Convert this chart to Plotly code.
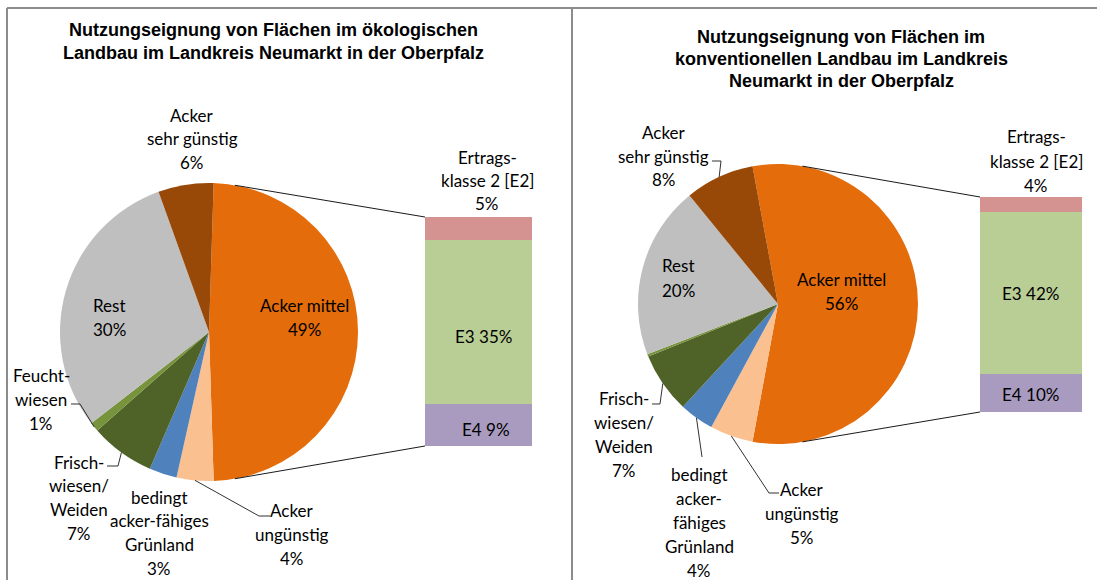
import math
import plotly.graph_objects as go

W, H = 1097, 580

# ---- data -----------------------------------------------------------------
categories = ["Acker mittel", "Acker ungünstig", "bedingt acker-fähiges Grünland",
              "Frischwiesen/Weiden", "Feuchtwiesen", "Rest", "Acker sehr günstig"]
oeko_values = [49, 4, 3, 7, 1, 30, 6]
konv_values = [56, 5, 4, 7, 0.3, 20, 8]

# "Acker mittel" split into yield classes (stacked bottom -> top)
ertrag_classes = ["E4", "E3", "E2"]
oeko_ertrag = [9, 35, 5]
konv_ertrag = [10, 42, 4]

slice_colors = ["#E46C0A", "#FAC090", "#4F81BD", "#4F6228", "#77933C", "#BFBFBF", "#984807"]
class_colors = ["#A99BBF", "#B9CE95", "#D49391"]

title_oeko = ["Nutzungseignung von Flächen im ökologischen",
              "Landbau im Landkreis Neumarkt in der Oberpfalz"]
title_konv = ["Nutzungseignung von Flächen im",
              "konventionellen Landbau im Landkreis",
              "Neumarkt in der Oberpfalz"]

LABEL_FONT = "Lato, 'Open Sans', sans-serif"
TITLE_FONT = "'Liberation Sans', Arial, sans-serif"
LINE_COL = "#1a1a1a"


def fx(x):
    return x / W


def fy(y):
    return 1 - y / H


fig = go.Figure()
annotations = []
shapes = []


def text_block(lines, cx, y0, dy=23.6, size=17, bold=False, family=LABEL_FONT):
    for i, t in enumerate(lines):
        annotations.append(dict(
            x=fx(cx), y=fy(y0 + i * dy), xref="paper", yref="paper",
            text=f"<b>{t}</b>" if bold else t, showarrow=False,
            xanchor="center", yanchor="middle",
            font=dict(family=family, size=size, color="#000000")))


def seg(points, width=1.0, color=LINE_COL):
    path = "M " + " L ".join(f"{fx(x):.5f},{fy(y):.5f}" for x, y in points)
    shapes.append(dict(type="path", path=path, xref="paper", yref="paper",
                       line=dict(color=color, width=width)))


def pct(v):
    return f"{v:.0f}%"


def bar_of_pie(values, split, cx, cy, r, bar_box, axis_id, label_spec, leader_spec,
               bar_label_spec):
    total = sum(values)
    frac0 = values[0] / total
    # split slice centred on 3 o'clock, slices run clockwise
    rotation = 90 - 360 * frac0 / 2
    fig.add_trace(go.Pie(
        labels=categories, values=values, sort=False, direction="clockwise",
        rotation=rotation, textinfo="none", hoverinfo="label+percent",
        marker=dict(colors=slice_colors, line=dict(width=0)),
        domain=dict(x=[fx(cx - r), fx(cx + r)], y=[fy(cy + r), fy(cy - r)]),
        showlegend=False))

    # stacked bar for the split slice
    bx0, by0, bx1, by1 = bar_box
    xa = "x" if axis_id == 1 else f"x{axis_id}"
    ya = "y" if axis_id == 1 else f"y{axis_id}"
    for cls, v, col in zip(ertrag_classes, split, class_colors):
        fig.add_trace(go.Bar(x=[0], y=[v], name=cls, marker=dict(color=col, line=dict(width=0)),
                             width=1, xaxis=xa, yaxis=ya, showlegend=False))
    axkey = "xaxis" if axis_id == 1 else f"xaxis{axis_id}"
    aykey = "yaxis" if axis_id == 1 else f"yaxis{axis_id}"
    fig.layout[axkey] = dict(domain=[fx(bx0), fx(bx1)], range=[-0.5, 0.5], visible=False,
                             anchor=ya, fixedrange=True)
    fig.layout[aykey] = dict(domain=[fy(by1), fy(by0)], range=[0, sum(split)], visible=False,
                             anchor=xa, fixedrange=True)

    # connector lines from the split slice to the bar
    a = math.radians(10)
    seg([(cx + r * math.sin(a), cy - r * math.cos(a)), (bx0, by0)])
    seg([(cx + r * math.sin(a), cy + r * math.cos(a)), (bx0, by1)])

    # slice mid-angles (clockwise from 12 o'clock)
    mids = []
    acc = 0
    for v in values:
        mids.append(rotation + 360 * (acc + v / 2) / total)
        acc += v

    for idx, (lines, lx, ly) in label_spec.items():
        text_block(lines + [pct(values[idx])], lx, ly[0], dy=ly[1])
    for idx, pts in leader_spec.items():
        ang = math.radians(mids[idx])
        edge = (cx + r * math.sin(ang), cy - r * math.cos(ang))
        seg(pts + [edge], width=0.9)

    for k, (lines, lx, ly) in bar_label_spec.items():
        text_block(lines + ([pct(split[k])] if len(lines) > 1 else []), lx, ly[0], dy=ly[1])


# ---- left: ökologischer Landbau ----------------------------------------------
bar_of_pie(
    oeko_values, oeko_ertrag, cx=209, cy=332, r=149, bar_box=(425, 217, 532, 446), axis_id=1,
    label_spec={
        6: (["Acker", "sehr günstig"], 192, (115, 23.6)),
        0: (["Acker mittel"], 304, (305, 24)),
        5: (["Rest"], 109, (305, 24)),
        4: (["Feucht-", "wiesen"], 41, (375, 24)),
        3: (["Frisch-", "wiesen/", "Weiden"], 79, (462, 23.7)),
        2: (["bedingt", "acker-fähiges", "Grünland"], 159, (497, 23.8)),
        1: (["Acker", "ungünstig"], 292, (510, 24.3)),
    },
    leader_spec={
        4: [(71, 404), (80, 404)],
        3: [(107, 466), (118, 466)],
        1: [(270, 516), (259, 516)],
    },
    bar_label_spec={
        2: (["Ertrags-", "klasse 2 [E2]"], 487, (157, 23.2)),
        1: (["E3 " + pct(oeko_ertrag[1])], 483, (336, 0)),
        0: (["E4 " + pct(oeko_ertrag[0])], 486, (429, 0)),
    },
)

# ---- right: konventioneller Landbau ------------------------------------------
bar_of_pie(
    konv_values, konv_ertrag, cx=778, cy=304, r=140, bar_box=(980, 197, 1082, 412), axis_id=2,
    label_spec={
        6: (["Acker", "sehr günstig"], 664, (132, 24)),
        0: (["Acker mittel"], 841, (279, 24)),
        5: (["Rest"], 678, (266, 24)),
        3: (["Frisch-", "wiesen/", "Weiden"], 624, (398, 24.3)),
        2: (["bedingt", "acker-", "fähiges", "Grünland"], 699, (474, 24)),
        1: (["Acker", "ungünstig"], 802, (489, 24)),
    },
    leader_spec={
        6: [(712, 161), (721, 161)],
        3: [(652, 404), (660, 404)],
        2: [(702, 457)],
        1: [(779, 493), (769, 493)],
    },
    bar_label_spec={
        2: (["Ertrags-", "klasse 2 [E2]"], 1036, (137, 24)),
        1: (["E3 " + pct(konv_ertrag[1])], 1030, (293, 0)),
        0: (["E4 " + pct(konv_ertrag[0])], 1030, (394, 0)),
    },
)

# ---- titles ------------------------------------------------------------------
text_block(title_oeko, 273, 30, dy=23, size=18, bold=True, family=TITLE_FONT)
text_block(title_konv, 841, 37, dy=22, size=18, bold=True, family=TITLE_FONT)

# ---- panel frame -------------------------------------------------------------
frame_col = "#8C8C8C"
for pts in ([(7, 8), (W, 8)], [(7, 8), (7, H)], [(572, 8), (572, H)]):
    seg(pts, width=2, color=frame_col)

fig.update_layout(
    width=W, height=H, margin=dict(l=0, r=0, t=0, b=0),
    paper_bgcolor="white", plot_bgcolor="rgba(0,0,0,0)",
    barmode="stack", bargap=0,
    annotations=annotations, shapes=shapes,
)

fig.write_html("out.html")
